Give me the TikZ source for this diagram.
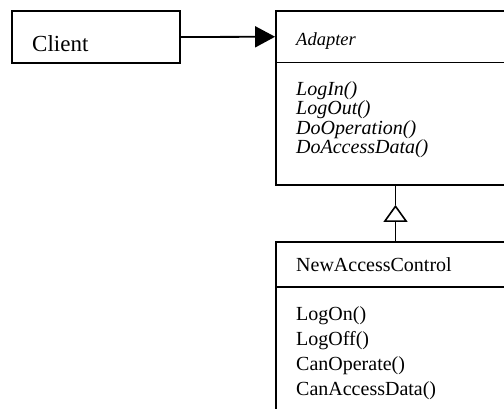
\documentclass[tikz,border=0pt]{standalone}
\usepackage{fontspec}
\setmainfont{Liberation Serif}
\usetikzlibrary{arrows.meta}
\tikzset{
  classbox/.style={draw,line width=1.8pt,inner sep=0pt},
  method/.style={anchor=base west,inner sep=0pt,font=\fontsize{20}{24}\selectfont},
  assoc/.style={line width=1.8pt,-{Triangle[length=20pt,width=21pt]}},
  generalize/.style={line width=1.8pt,-{Triangle[open,length=17pt,width=24pt,line width=1.6pt]}}
}
\begin{document}
\begin{tikzpicture}[x=1pt,y=-1pt]
\useasboundingbox (0,0) rectangle (504,408);
\clip (0,0) rectangle (504,408);
% client
\node[classbox,minimum width=168pt,minimum height=52pt] (client) at (96,37) {};
\node[method,font=\fontsize{23}{27}\selectfont] (clientname) at (32,51) {Client};
% adapter
\node[classbox,minimum width=239pt,minimum height=51.5pt] (adapterhead) at (395.5,36.75) {};
\node[classbox,minimum width=239pt,minimum height=122.5pt] (adapterbody) at (395.5,123.75) {};
\node[method,font=\fontsize{18.5}{22}\selectfont\itshape] (adaptername) at (296,45.7) {Adapter};
\foreach \m [count=\i] in {LogIn(),LogOut(),DoOperation(),DoAccessData()}
  \node[method,font=\fontsize{20}{24}\selectfont\itshape] (amth\i) at (296,76.2+19.3*\i) {\m};
% new access control
\node[classbox,minimum width=239pt,minimum height=45.3pt] (newhead) at (395.5,264.35) {};
\node[classbox,minimum width=239pt,minimum height=133pt] (newbody) at (395.5,353.5) {};
\node[method] (newname) at (296,271) {NewAccessControl};
\foreach \m [count=\i] in {LogOn(),LogOff(),CanOperate(),CanAccessData()}
  \node[method] (nmth\i) at (296,295.8+24.9*\i) {\m};
% connectors
\draw[assoc] (client.east) -- (adapterhead.west);
\coordinate (tip) at ([yshift=-19pt]adapterbody.south);
\draw[line width=1.8pt] (adapterbody.south) -- (tip);
\draw[generalize] (newhead.north) -- (tip);
\end{tikzpicture}
\end{document}
